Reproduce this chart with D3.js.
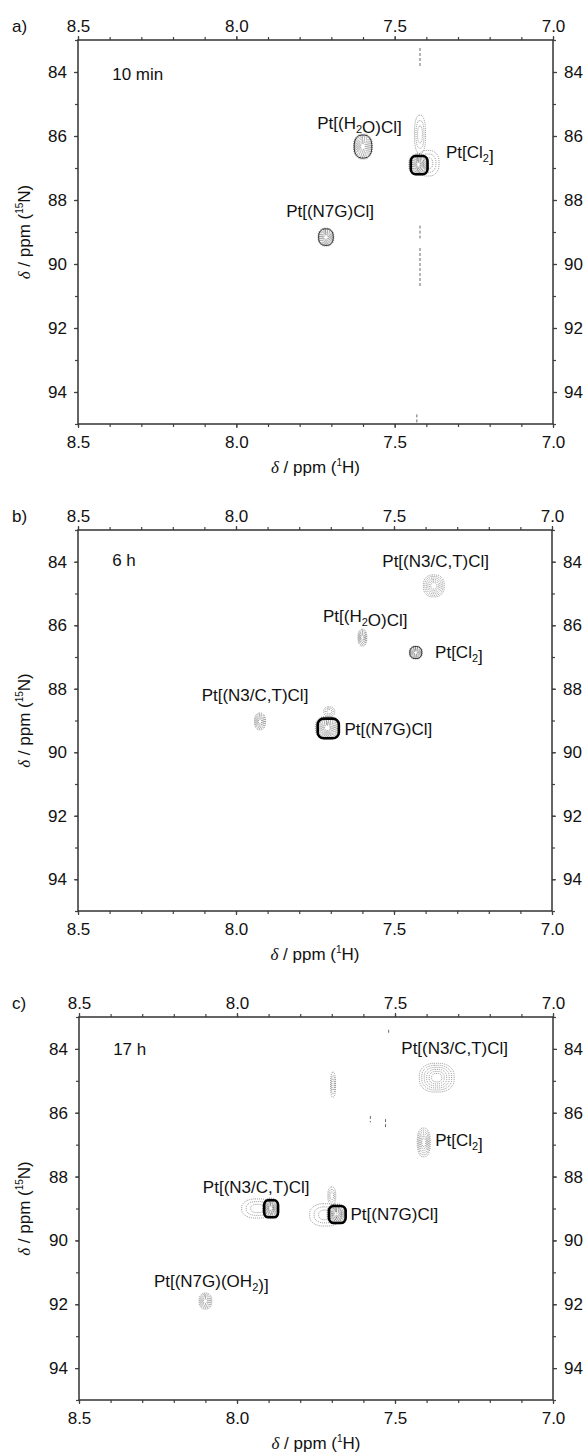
<!DOCTYPE html>
<html>
<head>
<meta charset="utf-8">
<script src="https://cdn.jsdelivr.net/npm/d3@7"></script>
<style>
  body { margin: 0; background: #fff; }
  svg text { font-family: "Liberation Sans", Arial, sans-serif; fill: #111; }
</style>
</head>
<body>
<svg id="chart" width="587" height="1452"></svg>
<script>
// axis ticks (ppm)
var hTicks = [8.5, 8.0, 7.5, 7.0];
var nTicks = [84, 86, 88, 90, 92, 94];
var hDomain = [8.5, 7.0];
var nDomain = [83, 95];

var panelNames = ["a)", "b)", "c)"];
var panelTimes = ["10 min", "6 h", "17 h"];

// cross peaks: [1H ppm, 15N ppm, width 1H, width 15N, intensity 0..3]
var peaksA = [
  [7.395, 86.85, 0.070, 0.80, 0],
  [7.420, 85.95, 0.035, 1.20, 0],
  [7.600, 86.33, 0.060, 0.78, 2],
  [7.425, 86.89, 0.060, 0.66, 3],
  [7.717, 89.16, 0.050, 0.56, 2]
];
var peaksB = [
  [7.374, 84.76, 0.066, 0.69, 1],
  [7.600, 86.39, 0.028, 0.53, 1],
  [7.431, 86.86, 0.041, 0.41, 2],
  [7.924, 89.03, 0.035, 0.53, 1],
  [7.705, 88.72, 0.035, 0.30, 0],
  [7.711, 89.23, 0.076, 0.72, 3]
];
var peaksC = [
  [7.368, 84.90, 0.110, 0.90, 1],
  [7.696, 85.12, 0.016, 0.78, 0],
  [7.409, 86.93, 0.041, 0.90, 1],
  [7.935, 89.00, 0.100, 0.60, 0],
  [7.894, 88.99, 0.050, 0.62, 3],
  [7.720, 89.20, 0.100, 0.70, 0],
  [7.700, 88.60, 0.025, 0.55, 0],
  [7.685, 89.17, 0.060, 0.62, 3],
  [8.100, 91.90, 0.040, 0.50, 1]
];

// t1 noise streaks: [1H ppm, 15N from, 15N to]
var streaksA = [
  [7.42, 83.25, 83.85], [7.42, 88.80, 89.20], [7.42, 89.50, 90.70], [7.43, 94.70, 95.00]
];
var streaksB = [];
var streaksC = [
  [7.52, 83.40, 83.55], [7.578, 86.10, 86.30], [7.53, 86.20, 86.45]
];

// peak labels: [text parts, 1H ppm, 15N ppm (baseline), anchor]
var labelsA = [
  [["Pt[(H", "_2", "O)Cl]"], 7.611, 85.78, "middle"],
  [["Pt[Cl", "_2", "]"], 7.338, 86.69, "start"],
  [["Pt[(N7G)Cl]"], 7.704, 88.53, "middle"]
];
var labelsB = [
  [["Pt[(N3/C,T)Cl]"], 7.537, 84.17, "start"],
  [["Pt[(H", "_2", "O)Cl]"], 7.591, 85.90, "middle"],
  [["Pt[Cl", "_2", "]"], 7.370, 87.03, "start"],
  [["Pt[(N3/C,T)Cl]"], 7.771, 88.39, "end"],
  [["Pt[(N7G)Cl]"], 7.657, 89.46, "start"]
];
var labelsC = [
  [["Pt[(N3/C,T)Cl]"], 7.480, 84.16, "start"],
  [["Pt[Cl", "_2", "]"], 7.373, 87.04, "start"],
  [["Pt[(N3/C,T)Cl]"], 8.108, 88.52, "start"],
  [["Pt[(N7G)Cl]"], 7.641, 89.36, "start"],
  [["Pt[(N7G)(OH", "_2", ")]"], 8.263, 91.46, "start"]
];

var svg = d3.select("#chart");

var panels = [
  { top: 40,   bottom: 424,  left: 78, right: 553, timeY: 80,   peaks: peaksA, streaks: streaksA, labels: labelsA },
  { top: 530,  bottom: 911,  left: 78, right: 552, timeY: 566,  peaks: peaksB, streaks: streaksB, labels: labelsB },
  { top: 1017, bottom: 1400, left: 79, right: 553, timeY: 1055, peaks: peaksC, streaks: streaksC, labels: labelsC }
];

function addParts(textSel, parts) {
  parts.forEach(function(p) {
    if (p.charAt(0) == "_") {
      textSel.append("tspan").attr("font-size", 11).attr("dy", 4).text(p.slice(1));
      textSel.append("tspan").attr("dy", -4).text("");
    } else {
      textSel.append("tspan").text(p);
    }
  });
}

function styleAxis(g) {
  g.attr("font-size", null).attr("font-family", null);
  g.selectAll("text").attr("font-size", 17).attr("fill", "#111");
  g.selectAll("line").attr("stroke", "#444").attr("stroke-width", 1.2);
  g.select(".domain").remove();
}

function drawPeak(g, x, y, p) {
  var cx = x(p[0]), cy = y(p[1]);
  var w = Math.abs(x(p[0] + p[2] / 2) - x(p[0] - p[2] / 2));
  var h = Math.abs(y(p[1] + p[3] / 2) - y(p[1] - p[3] / 2));
  var k = p[4];
  var levels = [3, 6, 9, 11][k];
  for (var i = 0; i < levels; i++) {
    var s = 1 - (i / levels) * 0.85;
    g.append("rect")
      .attr("x", cx - w * s / 2).attr("y", cy - h * s / 2)
      .attr("width", w * s).attr("height", h * s)
      .attr("rx", w * s * 0.42).attr("ry", h * s * 0.42)
      .attr("fill", "none")
      .attr("stroke", "#555")
      .attr("stroke-width", 0.6)
      .attr("stroke-dasharray", "1 1");
  }
  if (k == 2) {
    g.append("rect")
      .attr("x", cx - w * 0.46).attr("y", cy - h * 0.46)
      .attr("width", w * 0.92).attr("height", h * 0.92)
      .attr("rx", w * 0.38).attr("ry", h * 0.38)
      .attr("fill", "none").attr("stroke", "#333").attr("stroke-width", 1);
  }
  if (k == 3) {
    g.append("rect")
      .attr("x", cx - w * 0.40).attr("y", cy - h * 0.40)
      .attr("width", w * 0.88).attr("height", h * 0.86)
      .attr("rx", w * 0.25).attr("ry", h * 0.25)
      .attr("fill", "none").attr("stroke", "#000").attr("stroke-width", 2.6);
  }
}

panels.forEach(function(P, idx) {
  var x = d3.scaleLinear().domain(hDomain).range([P.left, P.right]);
  var y = d3.scaleLinear().domain(nDomain).range([P.top, P.bottom]);
  var g = svg.append("g");
  var minorH = d3.range(0, 16).map(function(i) { return +(8.5 - i * 0.1).toFixed(1); });
  var minorN = d3.range(83, 96);

  // minor ticks
  g.append("g").attr("transform", "translate(0," + P.top + ")")
    .call(d3.axisTop(x).tickValues(minorH).tickFormat("").tickSize(3).tickSizeOuter(0)).call(styleAxis);
  g.append("g").attr("transform", "translate(0," + P.bottom + ")")
    .call(d3.axisBottom(x).tickValues(minorH).tickFormat("").tickSize(3).tickSizeOuter(0)).call(styleAxis);
  g.append("g").attr("transform", "translate(" + P.left + ",0)")
    .call(d3.axisLeft(y).tickValues(minorN).tickFormat("").tickSize(3).tickSizeOuter(0)).call(styleAxis);
  g.append("g").attr("transform", "translate(" + P.right + ",0)")
    .call(d3.axisRight(y).tickValues(minorN).tickFormat("").tickSize(3).tickSizeOuter(0)).call(styleAxis);

  // major ticks + labels
  g.append("g").attr("transform", "translate(0," + P.top + ")")
    .call(d3.axisTop(x).tickValues(hTicks).tickFormat(d3.format(".1f")).tickSize(4).tickPadding(4).tickSizeOuter(0)).call(styleAxis);
  g.append("g").attr("transform", "translate(0," + P.bottom + ")")
    .call(d3.axisBottom(x).tickValues(hTicks).tickFormat(d3.format(".1f")).tickSize(4).tickPadding(8).tickSizeOuter(0)).call(styleAxis);
  g.append("g").attr("transform", "translate(" + P.left + ",0)")
    .call(d3.axisLeft(y).tickValues(nTicks).tickFormat(d3.format("d")).tickSize(4).tickPadding(7).tickSizeOuter(0)).call(styleAxis);
  g.append("g").attr("transform", "translate(" + P.right + ",0)")
    .call(d3.axisRight(y).tickValues(nTicks).tickFormat(d3.format("d")).tickSize(4).tickPadding(7).tickSizeOuter(0)).call(styleAxis);

  // frame
  g.append("rect")
    .attr("x", P.left).attr("y", P.top)
    .attr("width", P.right - P.left).attr("height", P.bottom - P.top)
    .attr("fill", "none").attr("stroke", "#333").attr("stroke-width", 1.5);

  // panel letter
  g.append("text").attr("x", 12).attr("y", P.top - 8).attr("font-size", 17).text(panelNames[idx]);

  // time
  g.append("text").attr("x", x(8.392)).attr("y", P.timeY).attr("font-size", 17).text(panelTimes[idx]);

  // x title
  var xt = g.append("text")
    .attr("x", (P.left + P.right) / 2).attr("y", P.bottom + 49)
    .attr("text-anchor", "middle").attr("font-size", 17);
  xt.append("tspan").attr("font-family", "'Liberation Serif', serif").attr("font-style", "italic").text("\u03b4");
  xt.append("tspan").text(" / ppm (");
  xt.append("tspan").attr("font-size", 10).attr("dy", -7).text("1");
  xt.append("tspan").attr("dy", 7).text("H)");

  // y title
  var yt = g.append("text")
    .attr("transform", "translate(30," + (P.top + P.bottom) / 2 + ") rotate(-90)")
    .attr("text-anchor", "middle").attr("font-size", 17);
  yt.append("tspan").attr("font-family", "'Liberation Serif', serif").attr("font-style", "italic").text("\u03b4");
  yt.append("tspan").text(" / ppm (");
  yt.append("tspan").attr("font-size", 10).attr("dy", -7).text("15");
  yt.append("tspan").attr("dy", 7).text("N)");

  // contours
  var cg = g.append("g");
  P.peaks.forEach(function(p) { drawPeak(cg, x, y, p); });

  cg.selectAll("line.streak").data(P.streaks).enter().append("line")
    .attr("class", "streak")
    .attr("x1", function(d) { return x(d[0]); })
    .attr("x2", function(d) { return x(d[0]); })
    .attr("y1", function(d) { return y(d[1]); })
    .attr("y2", function(d) { return y(d[2]); })
    .attr("stroke", "#444").attr("stroke-width", 0.8)
    .attr("stroke-dasharray", "3 2");

  // labels
  P.labels.forEach(function(l) {
    var t = g.append("text")
      .attr("x", x(l[1])).attr("y", y(l[2]))
      .attr("text-anchor", l[3]).attr("font-size", 17);
    addParts(t, l[0]);
  });
});
</script>
</body>
</html>
